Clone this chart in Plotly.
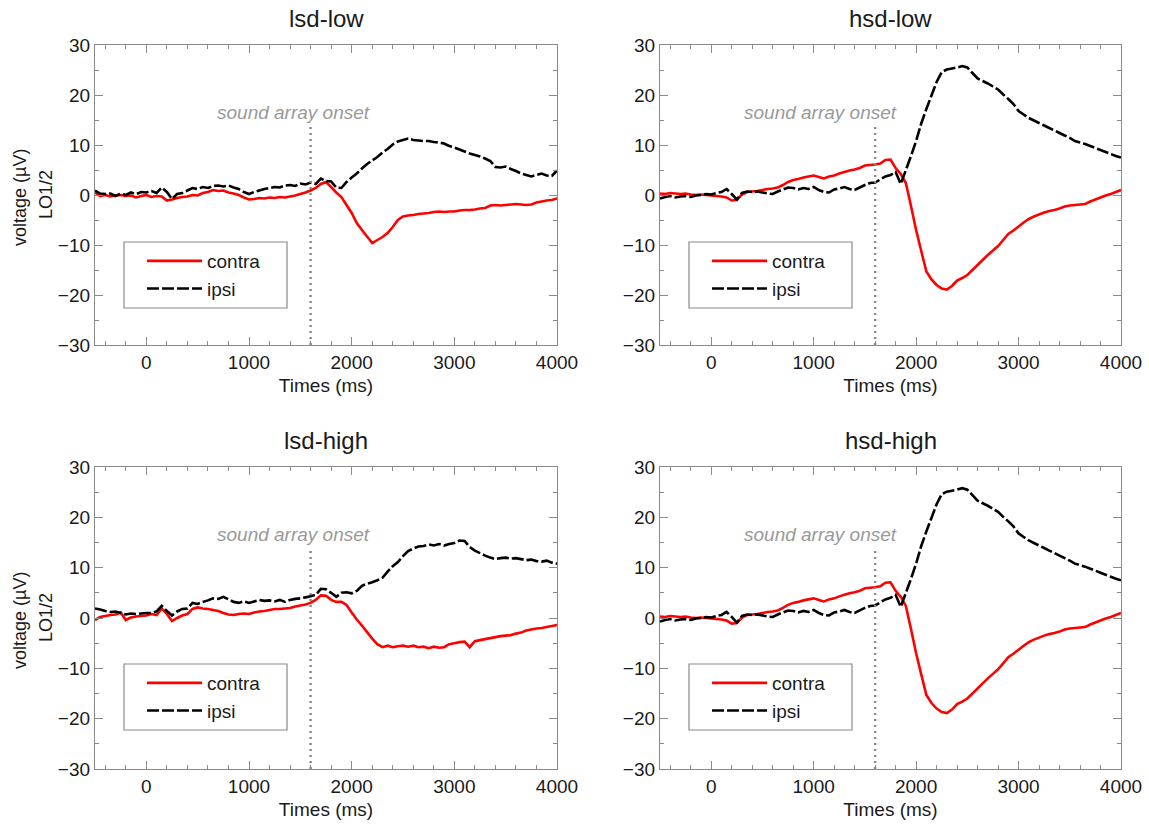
import plotly.graph_objects as go

# ---------------- data ----------------
times = list(range(-500, 4001, 50))  # ms, sample times
onset_ms = 1600
panel_titles = ["lsd-low", "hsd-low", "lsd-high", "hsd-high"]

lsd_low_contra = [
    0.5, -0.2, 0.0, -0.3, -0.1, 0.0, -0.2, -0.1, -0.5, -0.2,
    0.0, -0.4, -0.2, -0.3, -1.1, -0.9, -0.6, -0.4, -0.3, 0.0,
    -0.1, 0.4, 0.6, 1.0, 0.8, 0.9, 0.5, 0.3, 0.0, -0.5,
    -0.9, -0.8, -0.6, -0.7, -0.5, -0.6, -0.4, -0.5, -0.3, -0.1,
    0.2, 0.5, 0.9, 1.4, 2.2, 2.6, 1.6, 0.5, -0.4, -2.0,
    -3.6, -5.6, -7.0, -8.3, -9.6, -9.0, -8.4, -7.6, -6.4, -5.0,
    -4.3, -4.1, -4.0, -3.8, -3.7, -3.6, -3.4, -3.3, -3.4, -3.3,
    -3.3, -3.1, -3.0, -3.0, -2.9, -2.7, -2.6, -2.1, -2.0, -2.1,
    -2.0, -1.9, -1.8, -1.9, -2.0, -1.9, -1.5, -1.3, -1.1, -1.0,
    -0.7]
lsd_low_ipsi = [
    0.9, 0.3, 0.2, 0.3, -0.2, 0.3, 0.0, 0.5, 0.2, 0.6,
    0.5, 0.8, 0.4, 1.5, 0.6, -0.8, 0.2, 0.4, 0.9, 1.4,
    1.2, 1.6, 1.4, 1.8, 1.9, 1.7, 1.9, 1.5, 1.2, 0.6,
    0.2, 0.6, 0.9, 1.2, 1.4, 1.6, 1.5, 1.9, 2.0, 1.8,
    2.3, 2.1, 2.5, 2.2, 3.3, 2.8, 2.7, 1.5, 1.4, 2.6,
    3.5, 4.3, 5.3, 6.2, 6.9, 7.6, 8.5, 9.2, 10.1, 10.7,
    11.0, 11.3, 11.0, 10.9, 10.8, 10.8, 10.6, 10.5, 10.3, 9.8,
    9.5, 9.1, 8.7, 8.3, 8.0, 7.7, 7.3, 6.8, 5.6, 5.5,
    5.7, 5.2, 4.8, 4.3, 4.0, 3.7, 4.0, 4.3, 3.9, 3.8,
    4.9]

hsd_low_contra = [
    0.3, 0.2, 0.4, 0.3, 0.2, 0.3, 0.1, 0.0, 0.1, 0.0,
    -0.1, -0.2, -0.3, -0.5, -1.1, -1.0, 0.1, 0.6, 0.7, 0.8,
    1.0, 1.2, 1.3, 1.5, 2.0, 2.6, 3.0, 3.2, 3.5, 3.7,
    3.9, 3.6, 3.3, 3.7, 3.9, 4.3, 4.6, 4.9, 5.1, 5.4,
    5.9, 6.0, 6.1, 6.3, 7.0, 7.1, 5.4, 4.2, 2.4, -2.2,
    -7.0, -11.2, -15.3, -16.9, -18.0, -18.7, -18.9, -18.2, -17.1, -16.6,
    -16.0, -15.0, -14.0, -13.0, -12.0, -11.1, -10.2, -9.0, -7.8, -7.1,
    -6.3, -5.5, -4.8, -4.3, -3.9, -3.5, -3.2, -3.0, -2.7, -2.3,
    -2.1, -2.0, -1.9, -1.8, -1.3, -0.9, -0.5, -0.1, 0.2, 0.6,
    1.0]
hsd_low_ipsi = [
    -0.7, -0.4, -0.2, -0.5, -0.3, -0.2, -0.4, -0.1, 0.0, 0.2,
    0.1, 0.4, 0.6, 1.2, 0.2, -0.9, 0.4, 0.7, 0.6, 0.7,
    0.5, 0.3, 0.2, 0.7, 1.1, 1.5, 1.4, 1.1, 1.4, 1.2,
    1.6, 1.0, 0.6, 0.5, 1.1, 1.3, 1.6, 1.2, 1.0, 1.5,
    2.0, 2.4, 2.5, 3.1, 3.7, 4.0, 4.6, 2.2, 5.0, 7.8,
    10.8, 14.3, 17.2, 19.9, 22.6, 24.6, 25.1, 25.3, 25.5, 25.8,
    25.5, 24.4, 23.3, 22.8, 22.3, 21.7, 21.1, 20.1, 19.2, 18.2,
    16.8, 16.1, 15.4, 14.9, 14.4, 13.9, 13.4, 12.9, 12.4, 11.9,
    11.4, 10.8, 10.5, 10.2, 9.8, 9.4, 9.0, 8.6, 8.2, 7.8,
    7.5]

lsd_high_contra = [
    -0.4, 0.2, 0.4, 0.6, 0.7, 1.1, -0.4, 0.1, 0.3, 0.4,
    0.5, 0.8, 0.6, 1.9, 0.8, -0.6, 0.0, 0.5, 0.8, 1.8,
    2.1, 1.9, 1.8, 1.6, 1.4, 1.0, 0.7, 0.6, 0.8, 0.9,
    0.8, 1.1, 1.3, 1.4, 1.6, 1.8, 1.8, 1.9, 2.0, 2.3,
    2.5, 2.7, 3.0, 3.6, 4.5, 4.4, 3.6, 3.2, 3.2, 2.6,
    1.1, -0.3, -1.5, -2.8, -4.1, -5.2, -5.8, -5.5, -5.8, -5.6,
    -5.5, -5.7, -5.5, -5.8, -5.7, -6.0, -5.7, -5.9, -5.8, -5.2,
    -5.0, -4.8, -4.7, -5.8, -4.6, -4.4, -4.2, -4.0, -3.8, -3.6,
    -3.5, -3.4, -3.1, -2.9, -2.5, -2.3, -2.1, -2.0, -1.8, -1.6,
    -1.4]
lsd_high_ipsi = [
    1.9, 1.7, 1.4, 1.2, 1.3, 1.0, 0.7, 0.9, 0.8, 0.9,
    1.0, 1.0, 1.3, 2.4, 1.4, 0.5, 1.3, 1.8, 1.9, 3.0,
    2.8, 3.2, 3.5, 3.9, 3.8, 4.2, 3.7, 3.2, 3.0, 3.3,
    3.0, 3.3, 3.6, 3.4, 3.5, 3.3, 3.6, 3.2, 3.6, 3.8,
    3.9, 4.1, 4.3, 4.6, 5.8, 5.7, 5.0, 4.2, 5.0, 5.1,
    4.9, 5.4, 6.4, 6.8, 7.1, 7.5, 8.0, 9.2, 10.3, 11.1,
    12.3, 13.3, 13.8, 14.2, 14.3, 14.6, 14.4, 14.7, 14.4, 14.7,
    14.9, 15.4, 15.3, 14.1, 13.4, 12.9, 12.4, 12.0, 11.7, 11.9,
    12.0, 11.8, 11.9, 11.7, 11.5, 11.6, 11.3, 11.2, 11.4, 11.0,
    10.8]

# the hsd-high panel shows the same curves as hsd-low in the reference
hsd_high_contra = list(hsd_low_contra)
hsd_high_ipsi = list(hsd_low_ipsi)

series = [
    (lsd_low_contra, lsd_low_ipsi),
    (hsd_low_contra, hsd_low_ipsi),
    (lsd_high_contra, lsd_high_ipsi),
    (hsd_high_contra, hsd_high_ipsi),
]

# ---------------- layout helpers ----------------
W, H = 1149, 825
FONT = "Liberation Sans, Arial, Helvetica, sans-serif"
GRAY = "#8a8a8a"
col_px = [(95, 557), (660, 1121)]
row_px = [(45, 345), (467, 769)]   # top, bottom


def px_x(p):
    return p / W


def px_y(p):
    return 1 - p / H


fig = go.Figure()
legend_names = ["legend", "legend2", "legend3", "legend4"]

for i, (contra, ipsi) in enumerate(series):
    n = i + 1
    xa = "x" if n == 1 else f"x{n}"
    ya = "y" if n == 1 else f"y{n}"
    lg = legend_names[i]
    fig.add_trace(go.Scatter(x=times, y=contra, mode="lines", name="contra",
                             line=dict(color="#ff0000", width=2.6, simplify=False),
                             xaxis=xa, yaxis=ya, legend=lg))
    fig.add_trace(go.Scatter(x=times, y=ipsi, mode="lines", name="ipsi",
                             line=dict(color="#000000", width=2.6, dash="12px,3px",
                                       simplify=False),
                             xaxis=xa, yaxis=ya, legend=lg))

layout = dict(
    width=W, height=H,
    margin=dict(l=0, r=0, t=0, b=0, pad=0, autoexpand=False),
    paper_bgcolor="white", plot_bgcolor="white",
    font=dict(family=FONT, size=19, color="#1a1a1a"),
    showlegend=True,
)

annotations = []
shapes = []
onset_text_ms = [1430, 1070, 1430, 1070]

for i in range(4):
    n = i + 1
    r, c = divmod(i, 2)
    x0, x1 = col_px[c]
    top, bot = row_px[r]
    xkey = "xaxis" if n == 1 else f"xaxis{n}"
    ykey = "yaxis" if n == 1 else f"yaxis{n}"
    xa = "x" if n == 1 else f"x{n}"
    ya = "y" if n == 1 else f"y{n}"
    common = dict(showline=True, linecolor=GRAY, linewidth=1.2, mirror="allticks",
                  ticks="inside", ticklen=8, tickwidth=1.2, tickcolor=GRAY,
                  showgrid=False, zeroline=False, automargin=False,
                  tickfont=dict(size=19, color="#1a1a1a", family=FONT))
    layout[xkey] = dict(common, domain=[px_x(x0), px_x(x1)], anchor=ya,
                        range=[-500, 4000], tick0=0, dtick=1000,
                        minor=dict(ticks="inside", ticklen=4, tickcolor=GRAY, dtick=200, tick0=0),
                        title=dict(text="Times (ms)", font=dict(size=19), standoff=6))
    layout[ykey] = dict(common, domain=[px_y(bot), px_y(top)], anchor=xa,
                        range=[-30, 30], tick0=0, dtick=10,
                        minor=dict(ticks="inside", ticklen=4, tickcolor=GRAY, dtick=5, tick0=0))
    # panel title
    annotations.append(dict(text=panel_titles[i], xref="paper", yref="paper",
                            x=px_x((x0 + x1) / 2), y=px_y(top - 27), showarrow=False,
                            xanchor="center", yanchor="middle",
                            font=dict(size=24, color="#1a1a1a")))
    # onset label
    annotations.append(dict(text="<i>sound array onset</i>", xref=xa, yref=ya,
                            x=onset_text_ms[i], y=16.5, showarrow=False,
                            xanchor="center", yanchor="middle",
                            font=dict(size=19, color="#999999")))
    # onset dotted line
    shapes.append(dict(type="line", xref=xa, yref=ya, x0=onset_ms, x1=onset_ms,
                       y0=-30, y1=14, line=dict(color="#888888", width=2.4, dash="2px,4px")))
    # legend frame
    lx0 = x0 + 29
    shapes.append(dict(type="rect", xref="paper", yref="paper",
                       x0=px_x(lx0), x1=px_x(lx0 + 163),
                       y0=px_y(top + 197), y1=px_y(top + 263),
                       line=dict(color=GRAY, width=1.2), fillcolor="rgba(0,0,0,0)"))
    layout[legend_names[i]] = dict(x=px_x(lx0 + 18), y=px_y(top + 197),
                                   xanchor="left", yanchor="top",
                                   bgcolor="rgba(0,0,0,0)", borderwidth=0,
                                   itemwidth=55, font=dict(size=19, color="#1a1a1a"),
                                   tracegroupgap=0)
    # y-axis titles on the left column
    if c == 0:
        ymid = (top + bot) / 2
        annotations.append(dict(text="voltage (µV)", xref="paper", yref="paper",
                                x=px_x(20), y=px_y(ymid + 3), textangle=-90, showarrow=False,
                                xanchor="center", yanchor="middle",
                                font=dict(size=18, color="#1a1a1a")))
        annotations.append(dict(text="LO1/2", xref="paper", yref="paper",
                                x=px_x(46), y=px_y(ymid), textangle=-90, showarrow=False,
                                xanchor="center", yanchor="middle",
                                font=dict(size=18, color="#1a1a1a")))

layout["annotations"] = annotations
layout["shapes"] = shapes
fig.update_layout(**layout)

fig.write_html("out.html")
